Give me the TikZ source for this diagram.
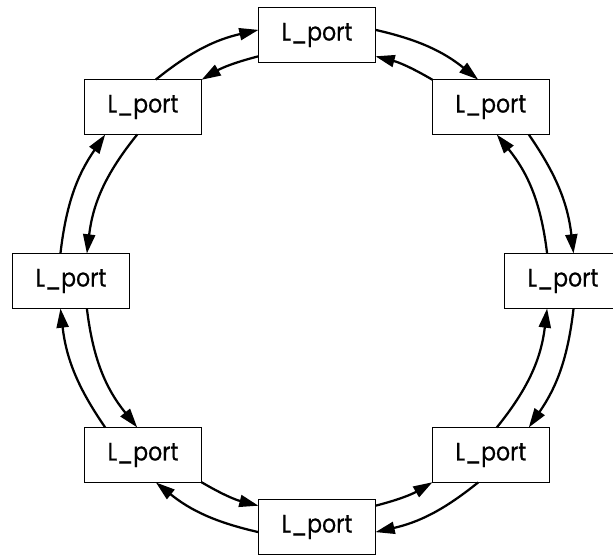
\documentclass[tikz,border=0pt]{standalone}
\usepackage{fontspec}
\setmainfont{Poppins}[FakeStretch=0.87, FakeBold=0.5]
\usetikzlibrary{arrows.meta}

\begin{document}
\begin{tikzpicture}[
    port/.style={rectangle, draw, line width=1.1pt, minimum width=2.925cm,
                 minimum height=1.375cm, inner sep=0pt, outer sep=0pt,
                 font=\fontsize{18}{21}\selectfont},
    arr/.style={-{Triangle[length=0.48cm, width=0.3cm]}, line width=1.6pt}
]
    \useasboundingbox (-7.925,-6.825) rectangle (7.4,7.025);

    \node[port] (pn)  at (90:6.15)  {L\_port};
    \node[port] (pne) at (45:6.15)  {L\_port};
    \node[port] (pe)  at (0:6.15)   {L\_port};
    \node[port] (pse) at (-45:6.15) {L\_port};
    \node[port] (ps)  at (-90:6.15) {L\_port};
    \node[port] (psw) at (-135:6.15){L\_port};
    \node[port] (pw)  at (180:6.15) {L\_port};
    \node[port] (pnw) at (135:6.15) {L\_port};

    % outer ring, clockwise
    \draw[arr] (pn.5)    to[bend left=13] (pne.115);
    \draw[arr] (pne.-36) to[bend left=14] (pe.69);
    \draw[arr] (pe.-69)  to[bend left=14] (pse.36);
    \draw[arr] (pse.-115) to[bend left=13] (ps.-5);
    \draw[arr] (ps.185)  to[bend left=13] (psw.-65);
    \draw[arr] (psw.144) to[bend left=14] (pw.-111);
    \draw[arr] (pw.111)  to[bend left=14] (pnw.-144);
    \draw[arr] (pnw.65)  to[bend left=13] (pn.175);

    % inner ring, counter-clockwise
    \draw[arr] (pne.155) to[bend right=8]  (pn.-20);
    \draw[arr] (pe.120)  to[bend right=16] (pne.-78);
    \draw[arr] (pse.78)  to[bend right=16] (pe.-120);
    \draw[arr] (ps.20)   to[bend right=8]  (pse.-155);
    \draw[arr] (psw.-25) to[bend right=8]  (ps.160);
    \draw[arr] (pw.-60)  to[bend right=16] (psw.102);
    \draw[arr] (pnw.-102) to[bend right=16] (pw.60);
    \draw[arr] (pn.200)  to[bend right=8]  (pnw.25);
\end{tikzpicture}
\end{document}
